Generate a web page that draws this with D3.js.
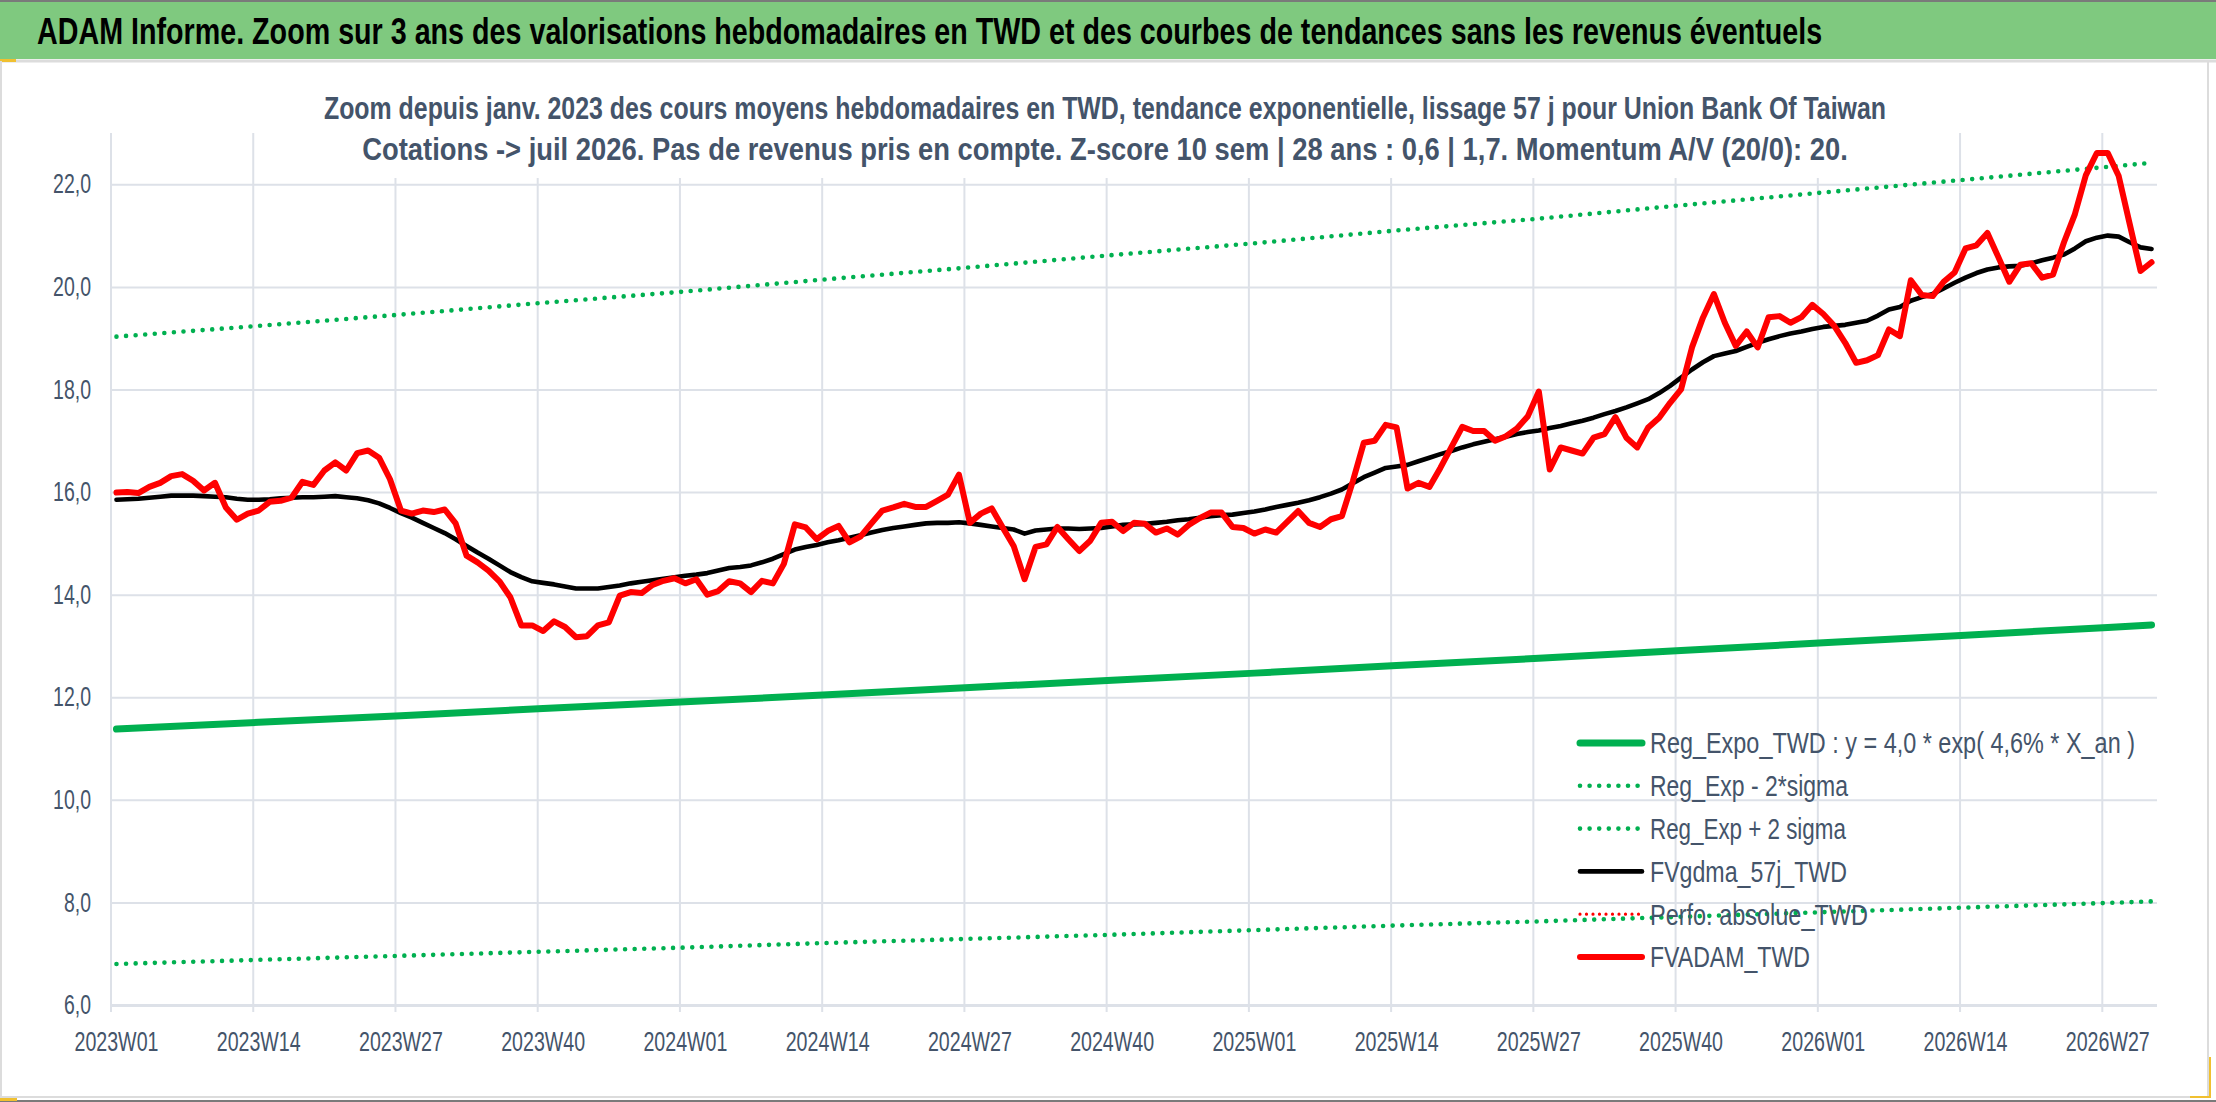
<!DOCTYPE html>
<html>
<head>
<meta charset="utf-8">
<script src="https://cdn.jsdelivr.net/npm/d3@7"></script>
<style>
  body { margin: 0; background: #fff; }
  svg text { font-family: "Liberation Sans", Arial, sans-serif; }
</style>
</head>
<body>
<div id="main"></div>
<script>
var ctx = {
    w: 2216,
    h: 1102,
    left: 111,
    right: 2157,
    top: 133,
    bottom: 1005,
    txt: "#44546a",
    grid: "#dde1e8",
    green: "#00b050",
    red: "#ff0000"
};

var titleText = "ADAM Informe. Zoom sur 3 ans des valorisations hebdomadaires en TWD et des courbes de tendances sans les revenus éventuels";
var subtitleLines = [
    "Zoom depuis janv. 2023 des cours moyens hebdomadaires en TWD, tendance exponentielle, lissage 57 j pour Union Bank Of Taiwan",
    "Cotations -> juil 2026. Pas de revenus pris en compte. Z-score 10 sem | 28 ans : 0,6 | 1,7. Momentum A/V (20/0): 20."
];

// weeks per year shown on the category axis
var weekYears = [[2023, 52], [2024, 52], [2025, 52], [2026, 31]];
var yTicks = [6, 8, 10, 12, 14, 16, 18, 20, 22];
var tickWeeks = ["2023W01", "2023W14", "2023W27", "2023W40", "2024W01", "2024W14", "2024W27", "2024W40",
                 "2025W01", "2025W14", "2025W27", "2025W40", "2026W01", "2026W14", "2026W27"];

// trend curves read at each labelled week + last week
var trendWeeks = tickWeeks.concat(["2026W31"]);
var regExpo  = [11.38, 11.51, 11.64, 11.78, 11.91, 12.05, 12.19, 12.33, 12.47, 12.62, 12.76, 12.91, 13.06, 13.21, 13.36, 13.41];
var regMinus = [6.80, 6.88, 6.96, 7.04, 7.12, 7.21, 7.29, 7.37, 7.46, 7.55, 7.63, 7.72, 7.81, 7.90, 7.99, 8.02];
var regPlus  = [19.03, 19.24, 19.46, 19.69, 19.91, 20.15, 20.38, 20.62, 20.85, 21.10, 21.33, 21.59, 21.84, 22.09, 22.34, 22.42];

// weekly series, 2023W01 -> 2026W31
var fvgdma = [
 15.85, 15.86, 15.87, 15.89, 15.91, 15.93, 15.93, 15.93, 15.92, 15.91, 15.90, 15.87, 15.85, 15.85, 15.86, 15.88,
 15.89, 15.90, 15.90, 15.91, 15.92, 15.90, 15.88, 15.84, 15.78, 15.69, 15.59, 15.50, 15.40, 15.30, 15.20, 15.08,
 14.95, 14.82, 14.70, 14.57, 14.44, 14.34, 14.26, 14.23, 14.20, 14.16, 14.12, 14.12, 14.12, 14.15, 14.18, 14.22,
 14.25, 14.28, 14.31, 14.34, 14.37, 14.39, 14.42, 14.47, 14.52, 14.54, 14.57, 14.63, 14.70, 14.79, 14.88, 14.93,
 14.97, 15.02, 15.06, 15.11, 15.16, 15.21, 15.26, 15.30, 15.33, 15.36, 15.39, 15.40, 15.40, 15.41, 15.39, 15.36,
 15.33, 15.30, 15.27, 15.19, 15.25, 15.27, 15.29, 15.29, 15.28, 15.29, 15.30, 15.33, 15.36, 15.37, 15.38, 15.40,
 15.42, 15.45, 15.47, 15.50, 15.53, 15.55, 15.56, 15.59, 15.62, 15.66, 15.71, 15.75, 15.79, 15.84, 15.90, 15.97,
 16.05, 16.17, 16.29, 16.38, 16.47, 16.50, 16.53, 16.60, 16.67, 16.74, 16.80, 16.87, 16.93, 16.98, 17.03, 17.08,
 17.13, 17.17, 17.20, 17.25, 17.29, 17.34, 17.39, 17.45, 17.52, 17.58, 17.65, 17.73, 17.81, 17.93, 18.07, 18.23,
 18.39, 18.53, 18.65, 18.70, 18.75, 18.83, 18.91, 18.98, 19.04, 19.09, 19.13, 19.18, 19.22, 19.24, 19.26, 19.30,
 19.34, 19.44, 19.56, 19.61, 19.73, 19.80, 19.86, 19.97, 20.08, 20.18, 20.27, 20.34, 20.38, 20.40, 20.41, 20.46,
 20.52, 20.57, 20.63, 20.75, 20.89, 20.96, 21.00, 20.98, 20.87, 20.77, 20.74
];
var fvadam = [
 15.99, 16.00, 15.98, 16.10, 16.18, 16.31, 16.35, 16.22, 16.03, 16.18, 15.70, 15.46, 15.58, 15.64, 15.81, 15.83,
 15.89, 16.20, 16.14, 16.42, 16.58, 16.42, 16.76, 16.81, 16.67, 16.25, 15.64, 15.58, 15.64, 15.61, 15.66, 15.39,
 14.76, 14.63, 14.47, 14.26, 13.95, 13.40, 13.40, 13.29, 13.48, 13.37, 13.17, 13.19, 13.40, 13.46, 13.98, 14.05,
 14.03, 14.19, 14.27, 14.32, 14.22, 14.30, 14.00, 14.07, 14.26, 14.22, 14.05, 14.27, 14.22, 14.60, 15.37, 15.31,
 15.08, 15.24, 15.34, 15.02, 15.13, 15.39, 15.64, 15.70, 15.77, 15.71, 15.71, 15.83, 15.95, 16.34, 15.40, 15.58,
 15.68, 15.31, 14.95, 14.30, 14.93, 14.98, 15.32, 15.08, 14.85, 15.05, 15.40, 15.42, 15.24, 15.40, 15.38, 15.21,
 15.29, 15.17, 15.36, 15.49, 15.60, 15.60, 15.32, 15.30, 15.19, 15.27, 15.21, 15.42, 15.63, 15.40, 15.32, 15.47,
 15.53, 16.21, 16.96, 17.00, 17.31, 17.26, 16.07, 16.18, 16.10, 16.47, 16.87, 17.27, 17.19, 17.19, 17.00, 17.09,
 17.24, 17.48, 17.96, 16.44, 16.87, 16.81, 16.75, 17.06, 17.13, 17.46, 17.06, 16.87, 17.26, 17.45, 17.74, 18.00,
 18.82, 19.40, 19.86, 19.30, 18.85, 19.13, 18.82, 19.41, 19.43, 19.30, 19.41, 19.65, 19.47, 19.24, 18.91, 18.52,
 18.57, 18.67, 19.17, 19.04, 20.13, 19.84, 19.82, 20.10, 20.28, 20.75, 20.81, 21.05, 20.58, 20.10, 20.43, 20.46,
 20.18, 20.24, 20.87, 21.42, 22.18, 22.61, 22.61, 22.16, 21.23, 20.31, 20.48
];

var legendLabels = [
    "Reg_Expo_TWD : y = 4,0 * exp( 4,6% *  X_an )",
    "Reg_Exp - 2*sigma",
    "Reg_Exp + 2 sigma",
    "FVgdma_57j_TWD",
    "Perfo. absolue_TWD",
    "FVADAM_TWD"
];
// the reference text is set in a condensed face: widths
var legendWidths = [485, 198, 196, 197, 218, 160];

var seriesStyles = [
    {color: ctx.green, width: 7,   dash: null},
    {color: ctx.green, width: 4.6, dash: "0 9.6"},
    {color: ctx.green, width: 4.6, dash: "0 9.6"},
    {color: "#000",    width: 4.6, dash: null},
    {color: ctx.red,   width: 3.2, dash: "0 6.5"},
    {color: ctx.red,   width: 6,   dash: null}
];

var weeks = [];
weekYears.forEach(function(yw){
    for (var k = 1; k <= yw[1]; k++) {
        weeks.push(yw[0] + "W" + (k < 10 ? "0" + k : k));
    }
});

// squeeze a text horizontally to a target width, keeping its anchor point
var squeeze = function(sel, target){
    sel.each(function(d, i){
        var len = this.getComputedTextLength();
        var t = typeof target === "function" ? target(d, i) : target;
        var k = t / len;
        var x0 = +this.getAttribute("x") || 0;
        d3.select(this).attr("transform", "translate(" + (x0 * (1 - k)) + ",0) scale(" + k + ",1)");
    });
};

var drawFrame = function(svg){
    svg.append("rect").attr("x", 0).attr("y", 0).attr("width", ctx.w).attr("height", 59).attr("fill", "#7fc97f");
    svg.append("line").attr("x1", 0).attr("x2", ctx.w).attr("y1", 1).attr("y2", 1)
       .attr("stroke", "#7a7a7a").attr("stroke-width", 2);
    svg.append("line").attr("x1", 0).attr("x2", ctx.w).attr("y1", 61).attr("y2", 61)
       .attr("stroke", "#dcdcdc").attr("stroke-width", 3);
    svg.append("rect").attr("x", 0).attr("y", 59).attr("width", 16).attr("height", 3).attr("fill", "#f0c030");
    svg.append("line").attr("x1", 1).attr("x2", 1).attr("y1", 61).attr("y2", 1097)
       .attr("stroke", "#dcdcdc").attr("stroke-width", 2);
    svg.append("line").attr("x1", 2208).attr("x2", 2208).attr("y1", 61).attr("y2", 1097)
       .attr("stroke", "#dcdcdc").attr("stroke-width", 2);
    svg.append("line").attr("x1", 0).attr("x2", 2209).attr("y1", 1097).attr("y2", 1097)
       .attr("stroke", "#dcdcdc").attr("stroke-width", 2);
    svg.append("line").attr("x1", 0).attr("x2", ctx.w).attr("y1", 1101).attr("y2", 1101)
       .attr("stroke", "#7a7a7a").attr("stroke-width", 2);
    svg.append("rect").attr("x", 0).attr("y", 1098).attr("width", 17).attr("height", 3).attr("fill", "#f0c030");
    svg.append("path").attr("d", "M2190,1097H2210V1057")
       .attr("fill", "none").attr("stroke", "#f0c030").attr("stroke-width", 2);

    svg.append("text")
       .attr("x", 37).attr("y", 44)
       .style("font-weight", "bold").style("font-size", "37px").attr("fill", "#000")
       .text(titleText)
       .call(squeeze, 1786);
};

var createViz = function(){
    var svg = d3.select("#main").append("svg").attr("width", ctx.w).attr("height", ctx.h);
    drawFrame(svg);

    var x = d3.scaleBand().domain(weeks).range([ctx.left, ctx.right]).padding(0);
    var y = d3.scaleLinear().domain([6, 23]).range([ctx.bottom, ctx.top]);
    var mid = function(w){ return x(w) + x.bandwidth()/2; };

    var bkg = svg.append("g").attr("id", "bkgG");
    // vertical grid lines on category boundaries, running down as tick marks
    bkg.selectAll("line.vg").data(tickWeeks).enter().append("line")
       .attr("x1", function(d){ return x(d); }).attr("x2", function(d){ return x(d); })
       .attr("y1", ctx.top).attr("y2", ctx.bottom + 7)
       .attr("stroke", ctx.grid).attr("stroke-width", 2);

    // y axis with horizontal grid
    var yAxis = bkg.append("g").attr("transform", "translate(" + ctx.left + ",0)")
       .call(d3.axisLeft(y).tickValues(yTicks).tickSize(-(ctx.right - ctx.left)).tickPadding(20)
             .tickFormat(function(d){ return d.toFixed(1).replace(".", ","); }));
    yAxis.select(".domain").remove();
    yAxis.selectAll(".tick line").attr("stroke", ctx.grid).attr("stroke-width", function(d){ return d === 6 ? 3 : 2; });
    yAxis.selectAll("text").attr("fill", ctx.txt).style("font-size", "27px")
       .call(squeeze, function(d){ return d < 10 ? 27 : 38; });

    // x axis labels centred on their week
    var xAxis = bkg.append("g").attr("transform", "translate(0," + ctx.bottom + ")")
       .call(d3.axisBottom(x).tickValues(tickWeeks).tickSize(0).tickPadding(26));
    xAxis.select(".domain").remove();
    xAxis.selectAll("text").attr("fill", ctx.txt).style("font-size", "28px")
       .call(squeeze, 84);

    // subtitle box hides the grid behind it
    svg.append("rect").attr("x", 300).attr("y", 70).attr("width", 1610).attr("height", 108).attr("fill", "#fff");
    svg.selectAll("text.sub").data(subtitleLines).enter().append("text")
       .attr("class", "sub")
       .attr("x", 1105).attr("y", function(d, i){ return 119 + i*41; })
       .attr("text-anchor", "middle")
       .style("font-weight", "bold").style("font-size", "32px").attr("fill", ctx.txt)
       .text(function(d){ return d; })
       .call(squeeze, function(d, i){ return i === 0 ? 1563 : 1486; });

    var rootG = svg.append("g").attr("id", "rootG");
    var line = d3.line().x(function(d){ return mid(d[0]); }).y(function(d){ return y(d[1]); });
    var drawSeries = function(keys, vals, st){
        rootG.append("path")
           .datum(keys.map(function(k, i){ return [k, vals[i]]; }))
           .attr("d", line)
           .attr("fill", "none")
           .attr("stroke", st.color)
           .attr("stroke-width", st.width)
           .attr("stroke-linecap", "round")
           .attr("stroke-linejoin", "round")
           .attr("stroke-dasharray", st.dash);
    };
    drawSeries(trendWeeks, regExpo, seriesStyles[0]);
    drawSeries(trendWeeks, regMinus, seriesStyles[1]);
    drawSeries(trendWeeks, regPlus, seriesStyles[2]);
    drawSeries(weeks, fvgdma, seriesStyles[3]);
    drawSeries(weeks, fvadam, seriesStyles[5]);

    // legend
    var leg = svg.append("g").attr("transform", "translate(1580,0)");
    var rowY = function(i){ return 743 + i*42.8; };
    leg.selectAll("line").data(legendLabels).enter().append("line")
       .attr("x1", 0).attr("x2", 62)
       .attr("y1", function(d, i){ return rowY(i); }).attr("y2", function(d, i){ return rowY(i); })
       .attr("stroke", function(d, i){ return seriesStyles[i].color; })
       .attr("stroke-width", function(d, i){ return seriesStyles[i].width; })
       .attr("stroke-linecap", "round")
       .attr("stroke-dasharray", function(d, i){ return seriesStyles[i].dash; });
    leg.selectAll("text").data(legendLabels).enter().append("text")
       .attr("x", 70).attr("y", function(d, i){ return rowY(i); })
       .attr("dy", "0.36em")
       .style("font-size", "29px").attr("fill", ctx.txt)
       .text(function(d){ return d; })
       .call(squeeze, function(d, i){ return legendWidths[i]; });
};

createViz();
</script>
</body>
</html>
